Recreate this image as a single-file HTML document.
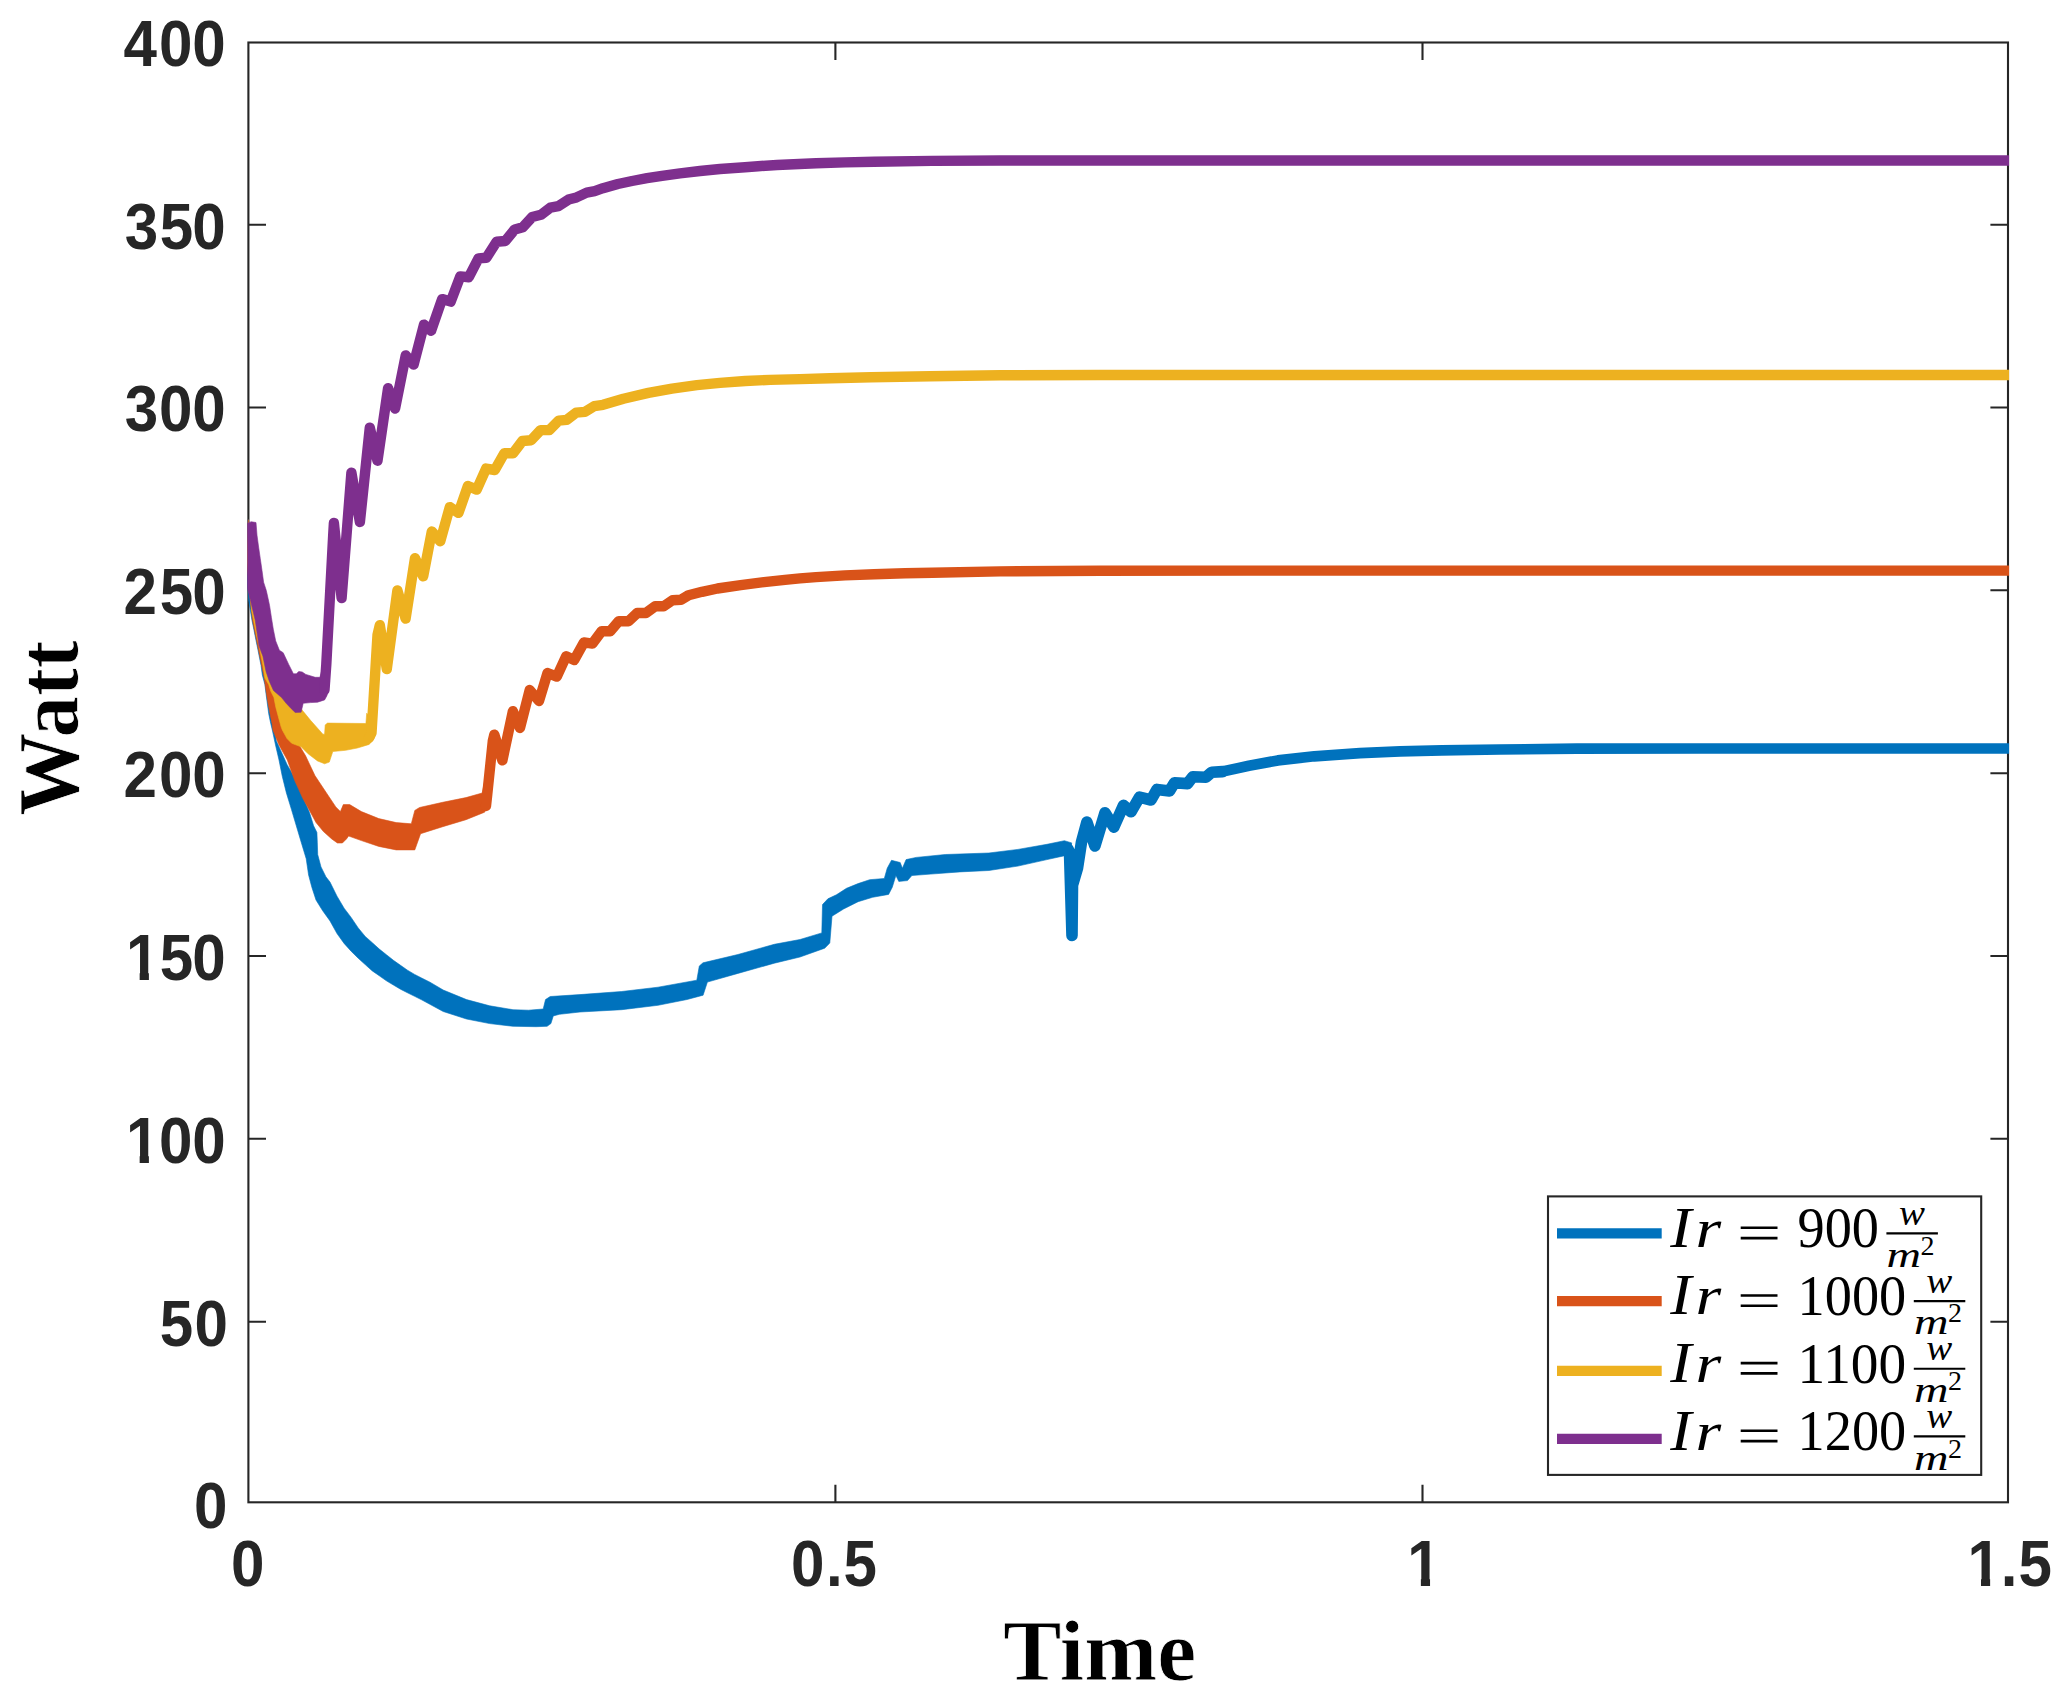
<!DOCTYPE html>
<html lang="en"><head><meta charset="utf-8"><title>Watt vs Time</title>
<style>
html,body{margin:0;padding:0;background:#fff;}
body{width:2065px;height:1703px;overflow:hidden;}
svg{display:block;}
.tk{font-family:"Liberation Sans",Arial,Helvetica,sans-serif;font-weight:bold;font-size:62.5px;fill:#262626;}
.lab{font-family:"Liberation Serif","Times New Roman",serif;font-weight:bold;fill:#000;stroke:#fff;stroke-width:0.8px;paint-order:fill stroke;}
.mi{font-family:"Liberation Serif","Times New Roman",serif;font-style:italic;fill:#000;}
.mr{font-family:"Liberation Serif","Times New Roman",serif;fill:#000;}
</style></head><body>
<svg width="2065" height="1703" viewBox="0 0 2065 1703">
<rect x="0" y="0" width="2065" height="1703" fill="#ffffff"/>
<defs><clipPath id="ax"><rect x="247.2" y="42.5" width="1761.9" height="1459.8"/></clipPath><clipPath id="one"><path d="M-1 -50H23.7V2H14.1V-6.7H-1Z"/></clipPath></defs>
<g stroke="#262626" stroke-width="2.1" fill="none" stroke-linecap="butt">
<rect x="248.4" y="42.5" width="1759.6" height="1459.8"/>
<path d="M248.4 1321.7h17.6M2008.0 1321.7h-17.6M248.4 1138.8h17.6M2008.0 1138.8h-17.6M248.4 956.0h17.6M2008.0 956.0h-17.6M248.4 773.2h17.6M2008.0 773.2h-17.6M248.4 590.3h17.6M2008.0 590.3h-17.6M248.4 407.5h17.6M2008.0 407.5h-17.6M248.4 224.7h17.6M2008.0 224.7h-17.6M835.4 1502.3v-17.6M835.4 42.5v17.6M1422.5 1502.3v-17.6M1422.5 42.5v17.6"/>
</g>
<g clip-path="url(#ax)" stroke-linejoin="round" stroke-linecap="round">
<g fill="#0072BD" stroke="#0072BD">
<polygon stroke-width="0.6" points="247.3,575.0 248.6,600.0 251.9,620.0 253.9,629.7 255.8,639.4 257.8,649.1 259.7,658.8 261.0,665.2 262.3,674.9 264.9,684.6 266.1,694.3 267.4,704.0 268.7,713.7 270.7,723.4 272.3,730.0 275.5,745.0 279.0,760.0 282.3,776.4 286.4,792.9 291.4,809.3 296.3,825.8 301.2,842.2 306.2,858.7 308.6,875.1 311.9,887.4 316.0,900.0 322.5,910.5 330.0,920.9 337.0,933.6 344.1,943.4 351.1,951.2 358.2,958.2 365.2,964.6 372.3,970.9 379.3,975.8 386.4,980.8 393.4,985.0 400.5,989.2 407.5,992.8 414.6,996.3 421.6,999.8 443.2,1011.5 466.5,1019.0 489.7,1023.6 513.0,1026.3 536.2,1026.7 547.1,1026.3 550.9,1023.6 553.3,1015.9 559.5,1014.3 580.0,1012.0 621.7,1009.7 658.0,1005.3 687.1,999.5 703.1,995.2 707.4,982.1 737.9,973.4 774.3,963.2 800.0,957.0 824.7,948.2 829.8,943.1 832.0,916.2 843.6,909.0 858.1,901.7 872.6,897.3 888.6,894.4 892.3,887.2 895.9,875.5 898.8,881.4 907.5,880.6 911.9,875.5 930.8,874.1 959.8,871.9 988.9,870.5 1017.9,866.1 1047.0,859.6 1063.7,855.9 1070.0,856.0 1071.7,842.9 1064.4,840.7 1047.0,844.3 1017.9,849.4 988.9,853.0 945.3,854.5 916.2,857.4 906.1,859.6 902.4,868.3 900.2,862.5 891.5,860.3 887.2,868.3 884.3,878.5 869.7,879.7 858.1,883.6 846.5,888.3 836.4,894.8 827.9,898.8 822.5,904.6 821.8,932.9 800.0,939.5 774.3,944.3 737.9,954.5 703.0,962.8 699.3,966.0 696.8,980.2 658.0,987.2 621.7,991.5 580.0,994.6 550.2,996.5 545.5,999.6 543.2,1009.0 528.5,1010.2 513.0,1009.7 489.7,1005.8 466.5,999.6 443.2,990.0 430.0,982.2 421.6,978.0 414.6,974.4 407.5,970.2 400.5,965.3 393.4,960.3 386.4,954.7 379.3,949.1 372.3,942.7 365.2,936.4 358.2,927.9 351.1,917.4 344.1,908.2 337.0,896.2 330.0,882.1 325.9,876.8 321.0,866.9 317.7,854.6 317.3,842.2 316.9,832.4 313.6,825.8 309.5,812.6 295.9,780.0 287.0,764.4 276.4,740.9 262.0,640.0 248.4,520.0"/>
<polyline fill="none" stroke-width="11.6" points="1068.0,849.0 1069.5,852.0 1072.0,935.5 1072.5,885.0 1077.5,868.0 1081.5,842.0 1086.9,822.1 1094.9,846.0 1105.0,812.7 1113.8,827.1 1123.5,805.3 1131.0,811.8 1139.5,797.2 1151.0,800.0 1157.0,789.4 1169.5,791.0 1174.5,782.8 1187.5,783.6 1192.8,776.8 1206.0,777.2 1211.8,772.2 1222.5,771.6"/>
<polyline fill="none" stroke-width="10.7" points="1222.5,771.6 1248.9,765.8 1277.9,760.4 1314.3,756.3 1360.0,753.1 1400.0,751.4 1441.7,750.4 1500.0,749.5 1577.0,748.7 1700.0,748.5 2010.0,748.5"/>
</g>
<g fill="#D95319" stroke="#D95319">
<polygon stroke-width="0.6" points="247.3,565.0 248.5,585.0 252.5,620.0 258.5,650.0 264.2,678.1 266.1,691.1 268.1,704.0 270.0,713.7 272.0,723.4 272.9,730.0 279.0,745.0 287.3,760.0 294.7,780.6 302.9,798.6 307.0,806.0 311.1,813.4 316.0,822.5 323.4,831.5 331.7,838.9 337.4,843.0 342.4,843.0 346.5,838.9 348.6,836.0 361.4,840.6 378.8,846.4 396.2,849.9 414.8,849.9 420.6,833.7 442.7,826.7 466.0,819.7 484.6,812.2 489.2,802.3 492.7,781.4 485.0,780.0 482.2,793.0 466.0,797.6 442.7,802.3 419.5,807.5 414.8,810.4 411.3,823.8 396.2,822.6 378.8,818.6 361.4,811.6 349.7,804.6 343.3,804.6 340.4,811.6 335.8,806.9 326.5,793.0 314.9,775.5 305.6,755.8 298.6,744.2 290.0,725.0 280.0,680.0 265.0,600.0 248.4,520.0"/>
<polyline fill="none" stroke-width="10.4" points="486.0,806.0 487.3,794.0 492.8,741.0 494.3,734.6 502.4,760.4 512.9,711.2 520.0,728.0 529.7,690.0 539.0,701.0 547.5,673.0 556.8,676.6 566.1,656.3 574.2,659.9 583.9,642.4 592.4,643.6 601.7,631.1 610.3,631.2 618.8,621.1 628.5,621.2 637.4,612.9 645.9,613.0 655.2,606.2 663.7,606.2 672.5,600.2 681.0,599.8 688.5,595.2 702.0,591.8 717.5,588.5 740.7,585.2 764.0,582.1 785.0,579.8 800.0,578.4 816.0,577.1 845.0,575.4 874.0,574.2 905.0,573.3 932.5,572.7 1000.0,571.4 1100.0,570.8 1250.0,570.6 2010.0,570.6"/>
</g>
<g fill="#EDB120" stroke="#EDB120">
<polygon stroke-width="0.6" points="247.3,560.0 251.5,610.0 256.5,635.0 259.7,649.1 262.9,665.2 264.9,678.1 268.7,684.6 270.7,691.1 273.9,697.5 275.8,707.2 278.4,716.9 281.0,726.6 282.3,730.0 287.0,738.6 291.7,743.3 301.1,746.8 308.1,753.8 317.5,760.9 324.6,763.8 329.3,762.1 332.8,751.5 345.7,750.3 357.4,748.0 369.2,744.4 373.9,738.6 376.2,723.3 366.7,713.2 365.9,723.5 327.5,723.1 325.2,724.9 324.6,734.2 322.9,734.2 310.5,720.3 303.4,711.6 290.0,695.0 275.0,660.0 262.0,600.0 248.4,523.0"/>
<polyline fill="none" stroke-width="10.4" points="369.0,738.0 371.5,733.0 377.5,635.0 379.8,625.1 386.8,669.1 397.4,590.4 405.6,618.6 415.0,558.1 423.2,576.3 431.8,531.5 440.3,541.2 449.8,507.1 458.5,512.9 467.9,486.0 476.7,489.6 486.1,468.6 494.8,470.0 504.3,453.3 513.0,453.3 522.4,441.0 531.1,440.2 540.6,430.1 549.3,430.1 558.7,420.6 566.7,419.9 576.2,412.6 584.9,411.9 594.3,406.1 603.0,404.8 623.4,398.8 648.4,392.9 672.0,388.6 696.9,385.2 720.0,382.9 745.3,381.0 770.0,379.9 800.0,379.1 830.0,378.2 871.0,377.3 930.0,376.2 1000.0,375.3 1100.0,375.0 2010.0,375.0"/>
</g>
<g fill="#7E2F8E" stroke="#7E2F8E">
<polygon stroke-width="0.6" points="247.3,523.5 247.3,588.0 250.1,598.6 252.6,609.2 255.2,620.0 257.1,632.9 259.0,645.8 262.9,656.2 266.1,671.7 269.4,681.4 273.5,690.5 277.5,694.0 281.6,697.6 286.2,703.3 291.3,708.7 295.2,712.4 301.1,712.2 303.2,703.3 310.5,702.6 317.6,702.2 324.6,699.9 326.9,695.8 328.3,690.0 329.5,681.4 322.0,670.0 319.9,677.3 315.2,677.3 305.8,674.4 302.2,672.0 298.7,671.5 296.4,673.8 293.4,673.8 288.7,664.4 283.2,652.7 279.4,650.3 275.7,640.9 273.3,629.2 271.4,617.4 269.6,605.7 268.1,598.6 266.3,590.5 263.6,582.2 262.0,570.5 260.3,558.7 258.6,547.0 257.0,535.2 256.0,522.5 251.5,521.8"/>
<polyline fill="none" stroke-width="10.4" points="324.5,690.0 326.3,664.4 333.2,535.0 333.9,523.0 341.6,598.0 351.4,472.7 359.9,522.0 369.8,427.6 377.5,460.7 388.1,388.1 395.1,408.5 405.7,355.4 413.6,364.6 424.0,324.6 431.1,330.7 442.1,299.1 450.7,301.6 460.3,276.4 468.8,277.2 478.5,258.4 486.4,257.7 496.6,241.7 505.3,241.0 514.8,229.4 522.8,227.2 532.2,217.0 540.9,214.8 550.4,207.6 558.4,206.1 568.5,199.6 576.5,197.4 586.7,192.6 594.7,191.1 603.0,188.2 617.9,184.0 632.0,181.0 647.0,178.2 662.0,175.8 680.0,173.3 700.0,171.0 720.0,169.0 745.0,167.2 758.0,166.2 777.0,165.0 816.0,163.2 845.0,162.4 874.0,161.8 932.0,160.9 1000.0,160.5 1100.0,160.5 2010.0,160.5"/>
</g>
</g>
<g class="tk">
<text transform="translate(0 65.72) scale(0.962 1.042)" x="128.38 165.38 199.79">400</text>
<text transform="translate(0 248.55) scale(0.962 1.042)" x="129.73 165.96 199.79">350</text>
<text transform="translate(0 431.39) scale(0.962 1.042)" x="129.73 165.38 199.79">300</text>
<text transform="translate(0 614.23) scale(0.962 1.042)" x="128.48 165.96 199.79">250</text>
<text transform="translate(0 797.06) scale(0.962 1.042)" x="128.48 165.18 199.79">200</text>
<text clip-path="url(#one)" transform="translate(126.10 979.89) scale(0.962 1.042)">1</text><text transform="translate(0 979.89) scale(0.962 1.042)" x="165.96 199.79">50</text>
<text clip-path="url(#one)" transform="translate(126.10 1162.73) scale(0.962 1.042)">1</text><text transform="translate(0 1162.73) scale(0.962 1.042)" x="165.18 199.79">00</text>
<text transform="translate(0 1345.57) scale(0.962 1.042)" x="165.96 202.08">50</text>
<text transform="translate(0 1528.40) scale(0.962 1.042)" x="201.56">0</text>
<text transform="translate(0 1585.60) scale(0.962 1.042)" x="240.02">0</text>
<text transform="translate(0 1585.60) scale(0.962 1.042)" x="822.25 858.63 876.77">0.5</text>
<text clip-path="url(#one)" transform="translate(1407.30 1585.60) scale(0.962 1.042)">1</text>
<text clip-path="url(#one)" transform="translate(1967.45 1585.60) scale(0.962 1.042)">1</text><text transform="translate(0 1585.60) scale(0.962 1.042)" x="2079.83 2098.28">.5</text>
</g>
<text class="lab" font-size="86.0" x="1099.5" y="1680.2" text-anchor="middle" textLength="193.2" lengthAdjust="spacingAndGlyphs">Time</text>
<text class="lab" font-size="86.0" transform="translate(78.0 728.2) rotate(-90)" text-anchor="middle" textLength="175.2" lengthAdjust="spacingAndGlyphs">Watt</text>
<rect x="1548.0" y="1196.4" width="433.2" height="278.5" fill="#fff" stroke="#262626" stroke-width="2.1"/>
<line x1="1557.0" y1="1233.4" x2="1661.7" y2="1233.4" stroke="#0072BD" stroke-width="10.3"/>
<text class="mi" font-size="56.5" transform="translate(1670.3 1246.5) scale(1.13 1)">I</text><text class="mi" font-size="55" transform="translate(1695.6 1246.5) scale(1.2 1)">r</text><path d="M1740.7 1227.8h36.8M1740.7 1238.1h36.8" stroke="#000" stroke-width="2.6" fill="none"/><text class="mr" font-size="56.5" x="1797.6" y="1247.3" textLength="81.4" lengthAdjust="spacingAndGlyphs">900</text><path d="M1886.4 1233.4h51.5" stroke="#000" stroke-width="2.1" fill="none"/><text class="mi" font-size="36" x="1898.9" y="1225.0" textLength="26" lengthAdjust="spacingAndGlyphs">w</text><text class="mi" font-size="36" x="1886.6" y="1266.5" textLength="34.5" lengthAdjust="spacingAndGlyphs">m</text><text class="mr" font-size="28" x="1920.6" y="1254.5">2</text>
<line x1="1557.0" y1="1301.1" x2="1661.7" y2="1301.1" stroke="#D95319" stroke-width="10.3"/>
<text class="mi" font-size="56.5" transform="translate(1670.3 1314.2) scale(1.13 1)">I</text><text class="mi" font-size="55" transform="translate(1695.6 1314.2) scale(1.2 1)">r</text><path d="M1740.7 1295.5h36.8M1740.7 1305.8h36.8" stroke="#000" stroke-width="2.6" fill="none"/><text class="mr" font-size="56.5" x="1797.6" y="1315.0" textLength="108.6" lengthAdjust="spacingAndGlyphs">1000</text><path d="M1913.8 1301.1h51.5" stroke="#000" stroke-width="2.1" fill="none"/><text class="mi" font-size="36" x="1926.3" y="1292.7" textLength="26" lengthAdjust="spacingAndGlyphs">w</text><text class="mi" font-size="36" x="1914.0" y="1334.2" textLength="34.5" lengthAdjust="spacingAndGlyphs">m</text><text class="mr" font-size="28" x="1948.0" y="1322.2">2</text>
<line x1="1557.0" y1="1370.9" x2="1661.7" y2="1370.9" stroke="#EDB120" stroke-width="10.3"/>
<text class="mi" font-size="56.5" transform="translate(1670.3 1381.8) scale(1.13 1)">I</text><text class="mi" font-size="55" transform="translate(1695.6 1381.8) scale(1.2 1)">r</text><path d="M1740.7 1363.1h36.8M1740.7 1373.4h36.8" stroke="#000" stroke-width="2.6" fill="none"/><text class="mr" font-size="56.5" x="1797.6" y="1382.6" textLength="108.6" lengthAdjust="spacingAndGlyphs">1100</text><path d="M1913.8 1368.7h51.5" stroke="#000" stroke-width="2.1" fill="none"/><text class="mi" font-size="36" x="1926.3" y="1360.3" textLength="26" lengthAdjust="spacingAndGlyphs">w</text><text class="mi" font-size="36" x="1914.0" y="1401.8" textLength="34.5" lengthAdjust="spacingAndGlyphs">m</text><text class="mr" font-size="28" x="1948.0" y="1389.8">2</text>
<line x1="1557.0" y1="1438.9" x2="1661.7" y2="1438.9" stroke="#7E2F8E" stroke-width="10.3"/>
<text class="mi" font-size="56.5" transform="translate(1670.3 1449.5) scale(1.13 1)">I</text><text class="mi" font-size="55" transform="translate(1695.6 1449.5) scale(1.2 1)">r</text><path d="M1740.7 1430.8h36.8M1740.7 1441.1h36.8" stroke="#000" stroke-width="2.6" fill="none"/><text class="mr" font-size="56.5" x="1797.6" y="1450.2" textLength="108.6" lengthAdjust="spacingAndGlyphs">1200</text><path d="M1913.8 1436.4h51.5" stroke="#000" stroke-width="2.1" fill="none"/><text class="mi" font-size="36" x="1926.3" y="1428.0" textLength="26" lengthAdjust="spacingAndGlyphs">w</text><text class="mi" font-size="36" x="1914.0" y="1469.5" textLength="34.5" lengthAdjust="spacingAndGlyphs">m</text><text class="mr" font-size="28" x="1948.0" y="1457.5">2</text>
</svg>
</body></html>
